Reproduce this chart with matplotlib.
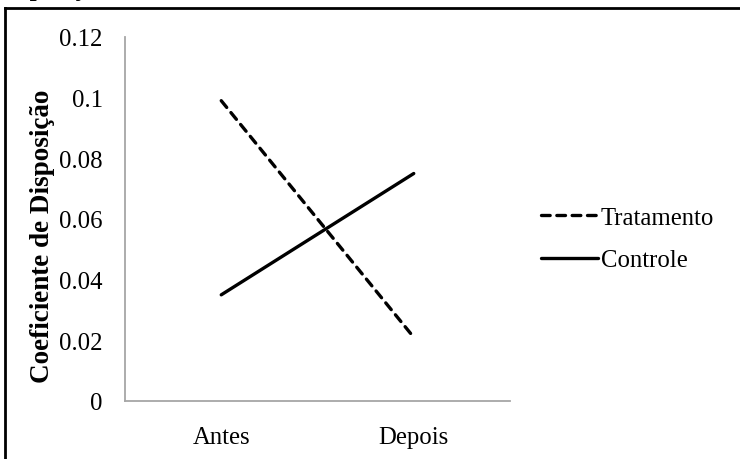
import matplotlib.pyplot as plt
from matplotlib.lines import Line2D

# data
periods = ["Antes", "Depois"]
tratamento = [0.099, 0.021]
controle = [0.035, 0.075]
yticks = [0, 0.02, 0.04, 0.06, 0.08, 0.1, 0.12]
ytick_labels = ["0", "0.02", "0.04", "0.06", "0.08", "0.1", "0.12"]

plt.rcParams["font.family"] = ["Liberation Serif", "DejaVu Serif"]

W, H = 740, 460
fig = plt.figure(figsize=(W / 100, H / 100), dpi=100)
ax = fig.add_axes([125 / W, (H - 402) / H, 385 / W, 364 / H])

x = list(range(len(periods)))
ax.plot(x, tratamento, color="black", lw=2.4, linestyle=(0, (2.6, 2.0)),
        dash_capstyle="round", label="Tratamento")
ax.plot(x, controle, color="black", lw=2.4, solid_capstyle="round", label="Controle")

ax.set_xlim(-0.5, 1.5)
ax.set_ylim(0, 0.12)
ax.set_yticks(yticks)
ax.set_yticklabels(ytick_labels)
ax.set_xticks(x)
ax.set_xticklabels(periods)
ax.tick_params(axis="both", length=0, labelsize=17.8)
ax.tick_params(axis="y", pad=16)
ax.tick_params(axis="x", pad=18)
for side in ["top", "right"]:
    ax.spines[side].set_visible(False)
for side in ["left", "bottom"]:
    ax.spines[side].set_color("#a6a6a6")
    ax.spines[side].set_linewidth(1.3)

fig.text(43 / W, (H - 236) / H, "Coeficiente de Disposição", rotation=90,
         ha="center", va="center", fontsize=19.5, fontweight="bold")

fig.legend(loc="center left", bbox_to_anchor=(541 / W, (H - 240) / H),
           frameon=False, fontsize=17.8, handlelength=2.3, handletextpad=0.12,
           borderpad=0, borderaxespad=0, labelspacing=0.82)

# caption fragment cut by the top of the image
fig.text(-4 / W, 1 + 3.6 / H, "Disposição", fontsize=18, fontweight="bold",
         ha="left", va="baseline")

# outer frame (top and left edges visible)
fig.add_artist(Line2D([5 / W, 1], [(H - 9) / H, (H - 9) / H], color="black", lw=2,
                      transform=fig.transFigure))
fig.add_artist(Line2D([5 / W, 5 / W], [0, (H - 9) / H], color="black", lw=2,
                      transform=fig.transFigure))

fig.savefig("out.png", dpi=100)
